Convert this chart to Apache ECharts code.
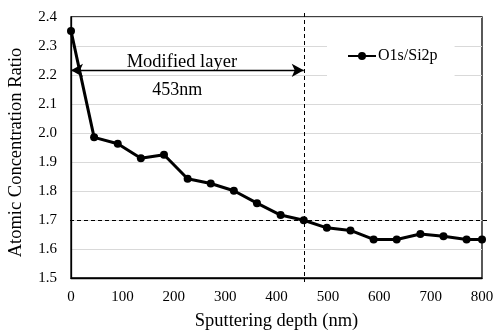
<!DOCTYPE html>
<html>
<head>
<meta charset="utf-8">
<script src="https://cdn.jsdelivr.net/npm/echarts@6/dist/echarts.min.js"></script>
<style>
  html, body { margin: 0; padding: 0; background: #fff; }
  #chart { width: 502px; height: 334px; }
</style>
</head>
<body>
<div id="chart"></div>
<script>
// Sputtering depth profile of the O1s/Si2p atomic ratio
const depthNm = [0, 45, 91, 136, 181, 227, 272, 317, 362, 408, 453, 498, 544, 589, 634, 680, 725, 770, 800];
const ratioO1sSi2p = [2.352, 1.985, 1.963, 1.913, 1.925, 1.842, 1.826, 1.801, 1.758, 1.717, 1.699, 1.673, 1.664, 1.633, 1.633, 1.652, 1.644, 1.633, 1.633];
const seriesName = 'O1s/Si2p';
const modifiedDepth = 453;       // thickness of the modified layer (nm)
const arrowLevel = 2.216;        // height of the dimension arrow
const referenceRatio = 1.7;      // horizontal reference level
const xTicks = [0, 800, 100];    // min, max, step
const yTicks = [1.5, 2.4, 0.1];

const points = depthNm.map((d, i) => [d, ratioO1sSi2p[i]]);
const serif = '"Liberation Serif", "Times New Roman", serif';

const chart = echarts.init(document.getElementById('chart'), null, { renderer: 'canvas' });

chart.setOption({
  animation: false,
  backgroundColor: '#fff',
  textStyle: { fontFamily: serif, color: '#000' },
  grid: {
    left: 71, right: 20, top: 17, bottom: 56,
    outerBoundsMode: 'none', containLabel: false,
    show: true, borderColor: '#000', borderWidth: 1.3, backgroundColor: 'transparent'
  },
  legend: {
    data: [seriesName],
    left: 327, top: 38,
    padding: [10, 17, 20, 20],
    backgroundColor: '#fff',
    itemWidth: 28, itemHeight: 10, itemGap: 5,
    textStyle: { fontFamily: serif, fontSize: 16, color: '#000', padding: [0, 0, 0, -3] }
  },
  xAxis: {
    type: 'value',
    min: xTicks[0], max: xTicks[1], interval: xTicks[2],
    name: 'Sputtering depth (nm)',
    nameLocation: 'middle', nameGap: 34,
    nameTextStyle: { fontFamily: serif, fontSize: 18.5, color: '#000' },
    axisLine: { show: true, lineStyle: { color: '#000', width: 1.3 } },
    axisTick: { show: false },
    axisLabel: { fontFamily: serif, fontSize: 15, color: '#000', margin: 12 },
    splitLine: { show: false }
  },
  yAxis: {
    type: 'value',
    min: yTicks[0], max: yTicks[1], interval: yTicks[2],
    name: 'Atomic Concentration Ratio',
    nameLocation: 'middle', nameGap: 45,
    nameTextStyle: { fontFamily: serif, fontSize: 18.5, color: '#000', padding: [0, 10, 0, 0] },
    axisLine: { show: true, lineStyle: { color: '#000', width: 1.3 } },
    axisTick: { show: false },
    axisLabel: { fontFamily: serif, fontSize: 15, color: '#000', margin: 14,
                 formatter: v => v.toFixed(1) },
    splitLine: { show: true, lineStyle: { color: '#d9d9d9', width: 1 } }
  },
  series: [
    {
      name: seriesName,
      type: 'line',
      data: points,
      clip: false,
      symbol: 'circle',
      symbolSize: 8,
      itemStyle: { color: '#000' },
      lineStyle: { color: '#000', width: 3 },
      z: 5,
      markLine: {
        silent: true,
        symbol: ['arrow', 'arrow'],
        symbolSize: [10, 12],
        lineStyle: { color: '#000', width: 1.3, type: 'solid' },
        data: [
          [
            { coord: [0, arrowLevel], label: { show: true, position: 'insideMiddleTop', distance: -1,
              padding: [0, 11, 0, 0],
              formatter: 'Modified layer', fontFamily: serif, fontSize: 18.5, color: '#000' } },
            { coord: [modifiedDepth, arrowLevel] }
          ],
          [
            { coord: [0, arrowLevel], lineStyle: { color: 'rgba(0,0,0,0)', width: 0 }, symbol: 'none',
              label: { show: true, position: 'insideMiddleBottom', distance: 11,
              padding: [0, 20, 0, 0],
              formatter: modifiedDepth + 'nm', fontFamily: serif, fontSize: 18, color: '#000' } },
            { coord: [modifiedDepth, arrowLevel], symbol: 'none' }
          ]
        ]
      }
    }
  ]
});

// Dashed reference lines that run slightly past the plot frame
function drawGuides() {
  const top = chart.convertToPixel({ gridIndex: 0 }, [modifiedDepth, yTicks[1]]);
  const bottom = chart.convertToPixel({ gridIndex: 0 }, [modifiedDepth, yTicks[0]]);
  const left = chart.convertToPixel({ gridIndex: 0 }, [xTicks[0], referenceRatio]);
  const right = chart.convertToPixel({ gridIndex: 0 }, [xTicks[1], referenceRatio]);
  const dash = { stroke: '#000', lineWidth: 1, lineDash: [4, 3] };
  chart.setOption({
    graphic: [
      { type: 'line', z: 4, silent: true,
        shape: { x1: Math.round(top[0]) + 0.5, y1: top[1] - 4, x2: Math.round(bottom[0]) + 0.5, y2: bottom[1] + 4 },
        style: dash },
      { type: 'line', z: 4, silent: true,
        shape: { x1: left[0] - 1, y1: Math.round(left[1]) + 0.5, x2: right[0] + 5, y2: Math.round(right[1]) + 0.5 },
        style: dash }
    ]
  });
}
drawGuides();
</script>
</body>
</html>
